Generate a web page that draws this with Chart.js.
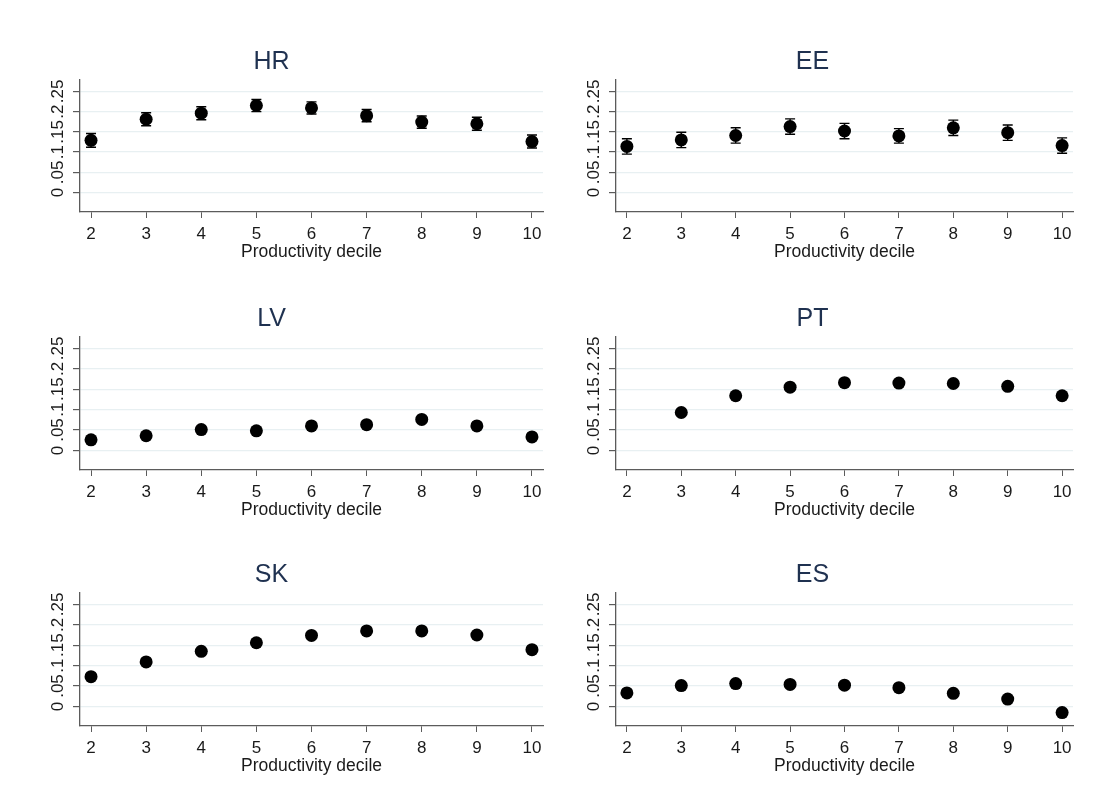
<!DOCTYPE html>
<html>
<head>
<meta charset="utf-8">
<script src="https://cdn.jsdelivr.net/npm/chart.js@4.4.1/dist/chart.umd.min.js"></script>
<style>
  body { margin: 0; background: #fff; }
  #wrap { position: relative; width: 1105px; height: 812px; overflow: hidden; }
  #wrap canvas { position: absolute; }
</style>
</head>
<body>
<div id="wrap"></div>
<script>
// data
const deciles = [2, 3, 4, 5, 6, 7, 8, 9, 10];
const yTickValues = [0, 0.05, 0.1, 0.15, 0.2, 0.25];
const yTickLabels = ["0", ".05", ".1", ".15", ".2", ".25"];
const countries = ["HR", "EE", "LV", "PT", "SK", "ES"];

const hrCoef = [0.129, 0.181, 0.196, 0.215, 0.209, 0.190, 0.174, 0.170, 0.126];
const hrErr = [0.017, 0.016, 0.016, 0.015, 0.015, 0.015, 0.015, 0.016, 0.016];
const eeCoef = [0.114, 0.130, 0.141, 0.163, 0.152, 0.140, 0.160, 0.148, 0.116];
const eeErr = [0.019, 0.019, 0.019, 0.019, 0.019, 0.018, 0.019, 0.019, 0.019];
const lvCoef = [0.026, 0.036, 0.051, 0.048, 0.060, 0.063, 0.076, 0.060, 0.033];
const ptCoef = [null, 0.093, 0.134, 0.155, 0.166, 0.165, 0.164, 0.157, 0.134];
const skCoef = [0.073, 0.109, 0.135, 0.156, 0.174, 0.185, 0.185, 0.175, 0.139];
const esCoef = [0.033, 0.051, 0.056, 0.054, 0.052, 0.046, 0.032, 0.018, -0.015];

const coefs = [hrCoef, eeCoef, lvCoef, ptCoef, skCoef, esCoef];
const errs = [hrErr, eeErr, null, null, null, null];

// panel layout (left/right column, three rows)
const cols = [
  { left: 0, width: 552, axisW: 80, padR: 9 },
  { left: 552, width: 553, axisW: 64, padR: 32 },
];
const rows = [
  { top: 44, height: 223 },
  { top: 301, height: 224 },
  { top: 557, height: 224 },
];

const FONT = "'Liberation Sans', Arial, sans-serif";
const gridCol = "#e8f0f2";
const axisCol = "#5b5b5b";
const textCol = "#1a1a1a";

// plugin - capped error bars drawn under the markers
const errorBars = {
  id: "errorBars",
  beforeDatasetsDraw(chart, args, opts) {
    const e = opts.errors;
    if (!e) return;
    const { ctx, scales: { x, y } } = chart;
    const pts = chart.data.datasets[0].data;
    ctx.save();
    ctx.strokeStyle = "#000";
    ctx.lineWidth = 1.4;
    pts.forEach((p, i) => {
      if (p.y == null || e[i] == null) return;
      const px = x.getPixelForValue(p.x);
      const top = y.getPixelForValue(p.y + e[i]);
      const bot = y.getPixelForValue(p.y - e[i]);
      ctx.beginPath();
      ctx.moveTo(px, top); ctx.lineTo(px, bot);
      ctx.moveTo(px - 5, top); ctx.lineTo(px + 5, top);
      ctx.moveTo(px - 5, bot); ctx.lineTo(px + 5, bot);
      ctx.stroke();
    });
    ctx.restore();
  },
};

const wrap = document.getElementById("wrap");

countries.forEach((name, k) => {
  const col = cols[k % 2];
  const row = rows[Math.floor(k / 2)];
  const cv = document.createElement("canvas");
  cv.width = col.width;
  cv.height = row.height;
  cv.style.left = col.left + "px";
  cv.style.top = row.top + "px";
  wrap.appendChild(cv);

  const points = deciles.map((d, i) => ({ x: d, y: coefs[k][i] }));

  new Chart(cv, {
    type: "scatter",
    data: {
      datasets: [{
        data: points,
        pointRadius: 6.5,
        pointHoverRadius: 6.5,
        pointBackgroundColor: "#000",
        pointBorderWidth: 0,
      }],
    },
    options: {
      responsive: false,
      animation: false,
      events: [],
      layout: { padding: { left: 0, right: col.padR, top: 0, bottom: 0 } },
      plugins: {
        legend: { display: false },
        tooltip: { enabled: false },
        title: {
          display: true,
          text: name,
          color: "#1f3150",
          font: { family: FONT, size: 25, weight: "normal" },
          padding: { top: 3, bottom: 3 },
        },
        errorBars: { errors: errs[k] },
      },
      scales: {
        x: {
          type: "linear",
          min: 1.8,
          max: 10.2,
          afterBuildTicks: (s) => { s.ticks = deciles.map((v) => ({ value: v })); },
          afterFit: (s) => { s.height = 55; },
          grid: { drawOnChartArea: false, tickLength: 6, tickColor: axisCol, color: axisCol },
          border: { display: true, color: axisCol, width: 1.3 },
          ticks: {
            color: textCol,
            padding: 6,
            maxRotation: 0,
            autoSkip: false,
            font: { family: FONT, size: 17 },
            callback: (v) => String(v),
          },
          title: {
            display: true,
            text: "Productivity decile",
            color: textCol,
            padding: { top: 0, bottom: 4 },
            font: { family: FONT, size: 17.5 },
          },
        },
        y: {
          min: -0.048,
          max: 0.278,
          afterBuildTicks: (s) => { s.ticks = yTickValues.map((v) => ({ value: v })); },
          afterFit: (s) => { s.width = col.axisW; },
          grid: { color: gridCol, lineWidth: 1.2, tickLength: 7, tickColor: axisCol },
          border: { display: true, color: axisCol, width: 1.3 },
          ticks: {
            color: textCol,
            padding: 3,
            minRotation: 90,
            maxRotation: 90,
            autoSkip: false,
            crossAlign: "center",
            font: { family: FONT, size: 17 },
            callback: (v, i) => yTickLabels[i],
          },
        },
      },
    },
    plugins: [errorBars],
  });
});
</script>
</body>
</html>
